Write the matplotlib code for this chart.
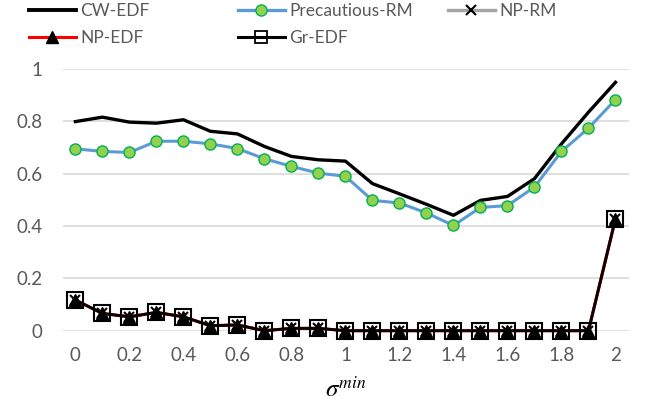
import matplotlib.pyplot as plt
from matplotlib.lines import Line2D
import numpy as np

plt.rcParams['font.family'] = ['Lato', 'DejaVu Sans']
plt.rcParams['mathtext.fontset'] = 'stix'

# x categories (sigma_min)
x_labels = ['0', '', '0.2', '', '0.4', '', '0.6', '', '0.8', '', '1',
            '', '1.2', '', '1.4', '', '1.6', '', '1.8', '', '2']

cw_edf = [0.799, 0.816, 0.797, 0.793, 0.806, 0.762, 0.752, 0.704, 0.666, 0.653,
          0.648, 0.562, 0.523, 0.483, 0.441, 0.498, 0.513, 0.581, 0.714, 0.835, 0.949]
precautious_rm = [0.695, 0.685, 0.681, 0.724, 0.724, 0.714, 0.696, 0.657, 0.628, 0.602,
                  0.590, 0.498, 0.488, 0.450, 0.402, 0.471, 0.478, 0.549, 0.685, 0.774, 0.883]
np_rm = [0.117, 0.066, 0.053, 0.070, 0.053, 0.019, 0.022, 0.0, 0.009, 0.009,
         0.0, 0.0, 0.0, 0.0, 0.0, 0.0, 0.0, 0.0, 0.0, 0.0, 0.428]
np_edf = [0.117, 0.066, 0.053, 0.070, 0.053, 0.019, 0.022, 0.0, 0.009, 0.009,
          0.0, 0.0, 0.0, 0.0, 0.0, 0.0, 0.0, 0.0, 0.0, 0.0, 0.428]
gr_edf = [0.117, 0.066, 0.053, 0.070, 0.053, 0.019, 0.022, 0.0, 0.009, 0.009,
          0.0, 0.0, 0.0, 0.0, 0.0, 0.0, 0.0, 0.0, 0.0, 0.0, 0.428]

idx = np.arange(len(x_labels))

fig = plt.figure(figsize=(6.46, 4.01), dpi=100)
ax = fig.add_axes([63 / 646, 1 - 330.7 / 401, (629 - 63) / 646, (330.7 - 69) / 401])

ax.plot(idx, cw_edf, color='black', lw=2.4, clip_on=False, zorder=3)
ax.plot(idx, precautious_rm, color='#5B9BD5', lw=2.2, marker='o', ms=8,
        mfc='#92D050', mec='#00B050', mew=1.0, clip_on=False, zorder=4)
ax.plot(idx, np_rm, color='#A5A5A5', lw=2.2, marker='x', ms=7, mec='black', mew=1.5,
        clip_on=False, zorder=5)
ax.plot(idx, np_edf, color='red', lw=2.2, marker='^', ms=8, mfc='black', mec='black',
        clip_on=False, zorder=6)
ax.plot(idx, gr_edf, color='black', lw=2.0, marker='s', ms=12, mfc='none', mec='black',
        mew=1.5, clip_on=False, zorder=7)

ax.set_xlim(-0.46, 20.5)
ax.set_ylim(0, 1)
ax.set_xticks(idx)
ax.set_xticklabels(x_labels)
ax.set_yticks([0, 0.2, 0.4, 0.6, 0.8, 1])
ax.set_yticklabels(['0', '0.2', '0.4', '0.6', '0.8', '1'])
ax.tick_params(axis='both', length=0, labelsize=13.5, colors='#595959')
ax.tick_params(axis='y', pad=15)
ax.tick_params(axis='x', pad=12)
ax.grid(axis='y', color='#D9D9D9', lw=1.2)
ax.set_axisbelow(True)
for s in ax.spines.values():
    s.set_visible(False)

ax.set_xlabel(r'$\sigma^{min}$', fontsize=18, labelpad=8, color='black')

# legend: three columns placed like the original
h_cw = Line2D([], [], color='black', lw=2.8)
h_np_edf = Line2D([], [], color='red', lw=2.2, marker='^', ms=8, mfc='black', mec='black')
h_prec = Line2D([], [], color='#5B9BD5', lw=2.4, marker='o', ms=8,
                mfc='#92D050', mec='#00B050', mew=1.0)
h_gr = Line2D([], [], color='black', lw=2.2, marker='s', ms=8, mfc='none', mec='black', mew=1.3)
h_np_rm = Line2D([], [], color='#A5A5A5', lw=2.4, marker='x', ms=7, mec='black', mew=1.5)

columns = [
    ([h_cw, h_np_edf], ['CW-EDF', 'NP-EDF'], 29),
    ([h_prec, h_gr], ['Precautious-RM', 'Gr-EDF'], 238),
    ([h_np_rm], ['NP-RM'], 448),
]
for hs, ls, x0 in columns:
    leg = fig.legend(hs, ls, loc='upper left', bbox_to_anchor=(x0 / 646, 1 - 3 / 401),
                     frameon=False, fontsize=12.5, labelcolor='#595959', numpoints=1,
                     handlelength=2.7, handletextpad=0.25, labelspacing=0.62,
                     borderpad=0, borderaxespad=0)

fig.savefig('out.png', dpi=100)
